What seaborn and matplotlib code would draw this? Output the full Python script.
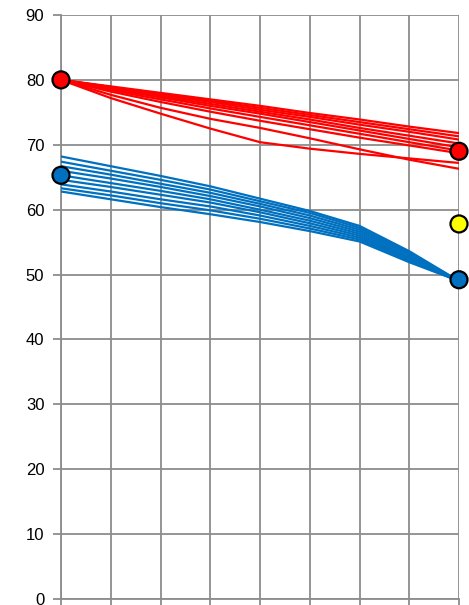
import matplotlib
matplotlib.use("Agg")
import matplotlib.pyplot as plt
import seaborn as sns
import pandas as pd

x_steps = [0, 1, 2, 3, 4, 5, 6, 7, 8]

red_lines = [
    [80, 79.0, 78.0, 77.0, 76.0, 74.9, 73.9, 72.8, 71.8],
    [80, 78.9, 77.8, 76.8, 75.7, 74.6, 73.5, 72.4, 71.3],
    [80, 78.9, 77.7, 76.6, 75.4, 74.3, 73.1, 72.0, 70.8],
    [80, 78.8, 77.5, 76.3, 75.1, 73.9, 72.6, 71.4, 70.2],
    [80, 78.6, 77.3, 76.0, 74.8, 73.5, 72.2, 70.9, 69.6],
    [80, 78.4, 77.0, 75.6, 74.3, 73.0, 71.7, 70.4, 69.1],
    [80, 78.2, 76.6, 75.1, 73.7, 72.4, 71.1, 69.9, 68.7],
    [80, 77.2, 74.8, 72.5, 70.4, 69.4, 68.6, 67.9, 67.2],
    [80, 77.7, 75.7, 74.0, 72.6, 71.0, 69.3, 67.7, 66.3],
]

blue_lines = [
    [68.2, 66.7, 65.2, 63.6, 61.7, 59.8, 57.5, 53.6, 49],
    [67.4, 66.0, 64.6, 63.1, 61.3, 59.5, 57.2, 53.4, 49],
    [66.7, 65.4, 64.0, 62.6, 60.9, 59.1, 56.9, 53.2, 49],
    [66.0, 64.8, 63.5, 62.1, 60.5, 58.7, 56.6, 53.0, 49],
    [65.3, 64.1, 62.9, 61.6, 60.0, 58.3, 56.3, 52.7, 49],
    [64.6, 63.5, 62.3, 61.1, 59.6, 57.9, 56.0, 52.5, 49],
    [63.9, 62.8, 61.6, 60.5, 59.1, 57.5, 55.7, 52.3, 49],
    [63.3, 62.2, 61.0, 59.9, 58.6, 57.1, 55.4, 52.1, 49],
    [62.8, 61.6, 60.4, 59.3, 58.1, 56.7, 55.1, 51.9, 49],
]

marker_x = [0, 8, 0, 8, 8]
marker_y = [80, 69, 65.3, 49.2, 57.8]
marker_kind = ["red", "red", "blue", "blue", "yellow"]

y_ticks = [0, 10, 20, 30, 40, 50, 60, 70, 80, 90]

RED = "#FF0000"
BLUE = "#0070C0"
YELLOW = "#FFFF00"
GRID = "#8C8C8C"

rows = []
for i, vals in enumerate(red_lines):
    for xv, yv in zip(x_steps, vals):
        rows.append({"x": xv, "y": yv, "line": f"r{i}", "group": "red"})
for i, vals in enumerate(blue_lines):
    for xv, yv in zip(x_steps, vals):
        rows.append({"x": xv, "y": yv, "line": f"b{i}", "group": "blue"})
df = pd.DataFrame(rows)
mdf = pd.DataFrame({"x": marker_x, "y": marker_y, "kind": marker_kind})

sns.set_theme(style="white")
plt.rcParams["font.family"] = ["Liberation Sans", "DejaVu Sans"]

fig = plt.figure(figsize=(4.69, 6.05), dpi=100)
ax = fig.add_axes([61 / 469, 6 / 605, (459 - 61) / 469, (599 - 15) / 605])

sns.lineplot(data=df, x="x", y="y", hue="group", units="line", estimator=None,
             palette={"red": RED, "blue": BLUE}, linewidth=1.6, legend=False,
             ax=ax, zorder=3)

sns.scatterplot(data=mdf, x="x", y="y", hue="kind",
                palette={"red": RED, "blue": BLUE, "yellow": YELLOW},
                s=150, edgecolor="black", linewidth=1.6, legend=False,
                ax=ax, zorder=5)
for c in ax.collections:
    c.set_clip_on(False)

ax.set_xlim(0, 8)
ax.set_ylim(0, 90)
ax.set_xticks(x_steps)
ax.set_xticklabels([])
ax.set_yticks(y_ticks)
ax.set_yticklabels([str(v) for v in y_ticks], fontsize=12, color="black")
ax.set_xlabel("")
ax.set_ylabel("")

ax.grid(True, color=GRID, linewidth=1.3, zorder=0)
ax.set_axisbelow(True)
for side in ["top", "right"]:
    ax.spines[side].set_visible(False)
for side in ["left", "bottom"]:
    ax.spines[side].set_color(GRID)
    ax.spines[side].set_linewidth(1.3)

ax.tick_params(axis="y", which="both", left=True, length=6, width=1.3,
               color=GRID, pad=6, labelsize=12)
ax.tick_params(axis="x", which="both", bottom=True, length=4, width=1.3,
               color=GRID)

fig.savefig("out.png", dpi=100)
